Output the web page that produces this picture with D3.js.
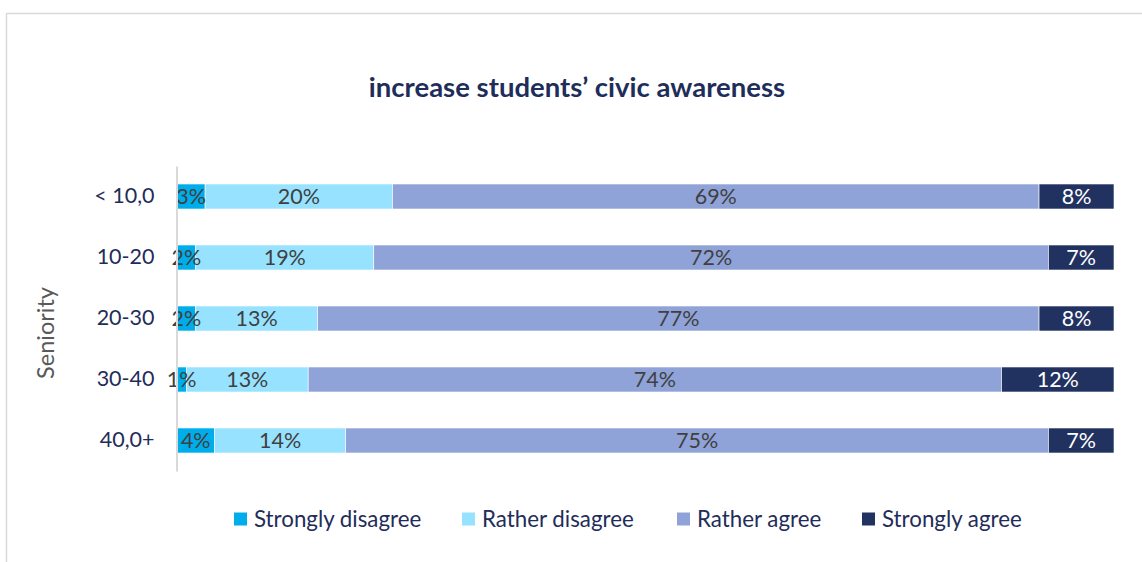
<!DOCTYPE html>
<html>
<head>
<meta charset="utf-8">
<script src="https://cdn.jsdelivr.net/npm/d3@7"></script>
<style>
  html, body { margin: 0; padding: 0; background: #fff; }
  svg { display: block; font-family: Lato, "Open Sans", sans-serif; }
</style>
</head>
<body>
<svg id="chart" width="1142" height="562"></svg>
<script>
// Survey: "increase students' civic awareness", answers by seniority band (%)
const categories = ["< 10,0", "10-20", "20-30", "30-40", "40,0+"];
const seriesNames = ["Strongly disagree", "Rather disagree", "Rather agree", "Strongly agree"];
const stronglyDisagree = [3, 2, 2, 1, 4];
const ratherDisagree   = [20, 19, 13, 13, 14];
const ratherAgree      = [69, 72, 77, 74, 75];
const stronglyAgree    = [8, 7, 8, 12, 7];
const seriesColors = ["#00ADEB", "#97E3FF", "#8FA3D8", "#213261"];
const labelColors  = ["#404040", "#404040", "#404040", "#ffffff"];

const seriesValues = [stronglyDisagree, ratherDisagree, ratherAgree, stronglyAgree];
const rows = categories.map((c, i) => {
  const r = { category: c };
  seriesNames.forEach((s, k) => { r[s] = seriesValues[k][i]; });
  return r;
});

const svg = d3.select("#chart");
const W = 1142, H = 562;

// chart frame
svg.append("rect")
  .attr("x", 6.5).attr("y", 13.5)
  .attr("width", W + 20).attr("height", H + 20)
  .attr("fill", "none").attr("stroke", "#D9D9D9").attr("stroke-width", 1.5);

// title
svg.append("text")
  .attr("x", 577).attr("y", 97)
  .attr("text-anchor", "middle")
  .attr("font-size", 27.5).attr("font-weight", 700)
  .attr("fill", "#1F2D5A")
  .text("increase students\u2019 civic awareness");

const plot = { left: 177, right: 1114, top: 166, bottom: 471 };

const x = d3.scaleLinear().domain([0, 100]).range([plot.left, plot.right]);
const y = d3.scaleBand().domain(categories).range([plot.top, plot.bottom]).paddingInner(0.59).paddingOuter(0.295);

const stack = d3.stack().keys(seriesNames);
const stacked = stack(rows);

const layers = svg.append("g").selectAll("g")
  .data(stacked).join("g")
  .attr("fill", (d, i) => seriesColors[i]);

layers.selectAll("rect")
  .data(d => d.map(p => ({ p, cat: p.data.category })))
  .join("rect")
  .attr("x", d => x(d.p[0]))
  .attr("y", d => y(d.cat))
  .attr("width", d => x(d.p[1]) - x(d.p[0]))
  .attr("height", y.bandwidth())
  .attr("stroke", "#ffffff").attr("stroke-width", 0.6);

// value labels centred in each segment
stacked.forEach((layer, k) => {
  svg.append("g").selectAll("text")
    .data(layer).join("text")
    .attr("x", p => (x(p[0]) + x(p[1])) / 2)
    .attr("y", p => y(p.data.category) + y.bandwidth() / 2)
    .attr("dy", "0.36em")
    .attr("text-anchor", "middle")
    .attr("font-size", 21.5)
    .attr("fill", labelColors[k])
    .text(p => (p[1] - p[0]) + "%");
});

// category axis
const yAxis = svg.append("g")
  .attr("transform", `translate(${plot.left - 0.5},0)`)
  .call(d3.axisLeft(y).tickSize(0).tickPadding(22));
yAxis.select(".domain").attr("stroke", "#D9D9D9").attr("stroke-width", 2);
yAxis.selectAll("text")
  .attr("font-size", 21.5).attr("font-family", "Lato, 'Open Sans', sans-serif")
  .attr("fill", "#1F2D5A");

// axis title
svg.append("text")
  .attr("transform", "translate(54,333) rotate(-90)")
  .attr("text-anchor", "middle")
  .attr("font-size", 23.5)
  .attr("fill", "#595959")
  .text("Seniority");

// legend
const legendX = [234, 462, 677, 862];
const legend = svg.append("g").selectAll("g")
  .data(seriesNames).join("g")
  .attr("transform", (d, i) => `translate(${legendX[i]},519)`);
legend.append("rect")
  .attr("x", 0).attr("y", -6.5).attr("width", 13).attr("height", 13)
  .attr("fill", (d, i) => seriesColors[i]);
legend.append("text")
  .attr("x", 20).attr("y", 0).attr("dy", "0.36em")
  .attr("font-size", 22.3).attr("fill", "#1F2D5A")
  .text(d => d);
</script>
</body>
</html>
